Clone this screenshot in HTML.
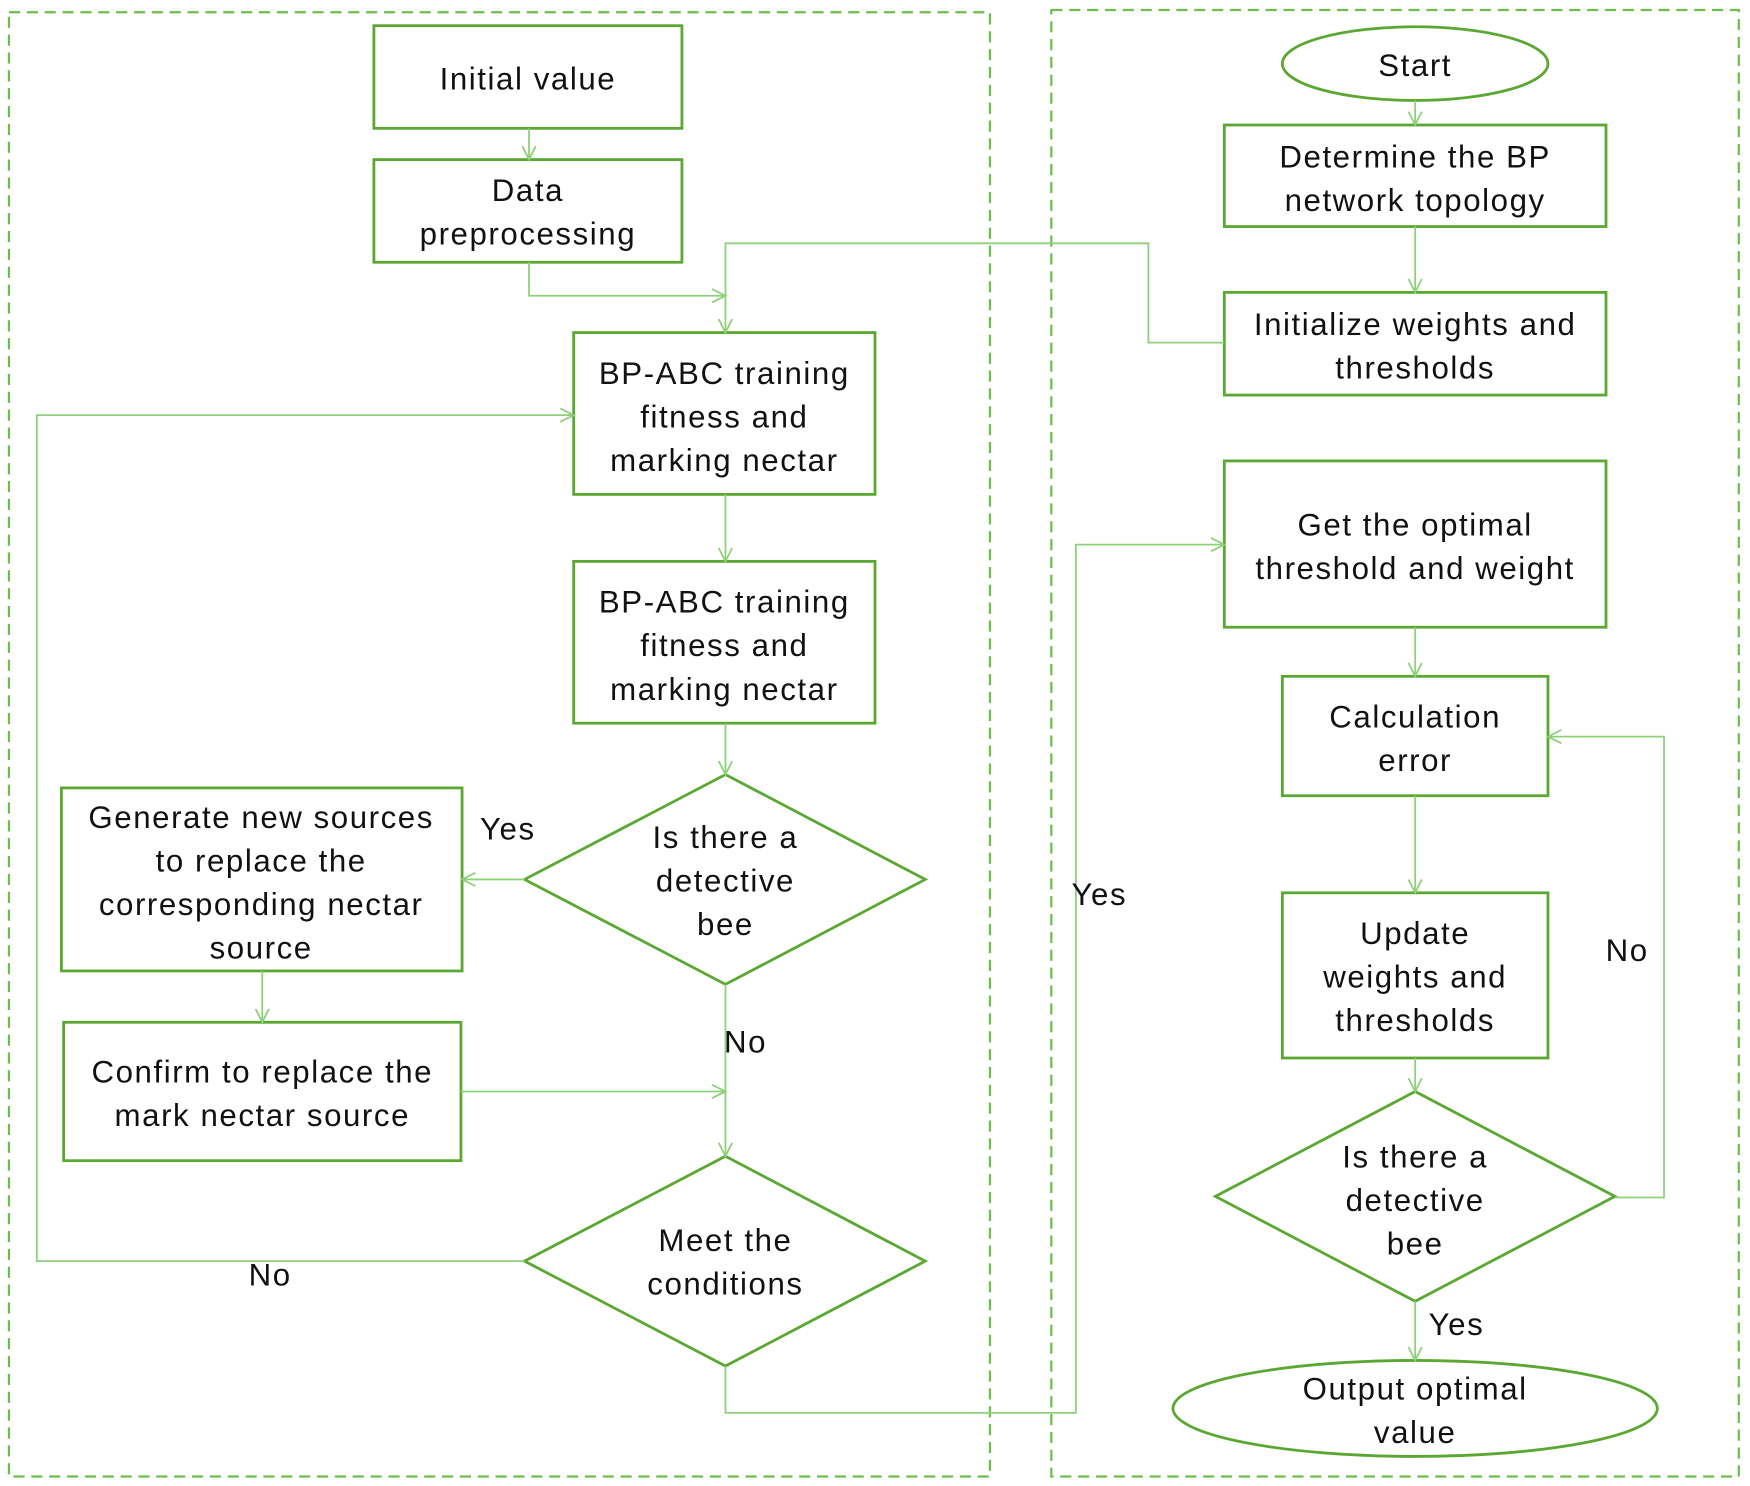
<!DOCTYPE html>
<html><head><meta charset="utf-8"><style>html,body{margin:0;padding:0;background:#fff}svg{display:block}</style></head>
<body>
<svg width="1750" height="1486" viewBox="0 0 1568 1331.5" xmlns="http://www.w3.org/2000/svg">
<defs><marker id="a" markerWidth="16" markerHeight="16" refX="13" refY="7" orient="auto" markerUnits="userSpaceOnUse"><path d="M1,1 L13,7 L1,13" fill="none" stroke="#8fd07a" stroke-width="1.6"/></marker></defs>
<g fill="none" stroke="#6cbf4a" stroke-width="2" stroke-dasharray="10,6">
<rect x="8" y="11" width="879" height="1312"/>
<rect x="942" y="9" width="616" height="1314"/>
</g>
<g fill="#fff" stroke="#5aa832" stroke-width="2.5">
<rect x="335" y="23" width="276" height="92"/>
<rect x="335" y="143" width="276" height="92"/>
<rect x="514" y="298" width="270" height="145"/>
<rect x="514" y="503" width="270" height="145"/>
<polygon points="470,788 650,694 829,788 650,882"/>
<rect x="55" y="706" width="359" height="164"/>
<rect x="57" y="916" width="356" height="124"/>
<polygon points="470,1130 650,1036 829,1130 650,1224"/>
<ellipse cx="1268" cy="57" rx="119" ry="33"/>
<rect x="1097" y="112" width="342" height="91"/>
<rect x="1097" y="262" width="342" height="92"/>
<rect x="1097" y="413" width="342" height="149"/>
<rect x="1149" y="606" width="238" height="107"/>
<rect x="1149" y="800" width="238" height="148"/>
<polygon points="1089,1072 1268,978 1447,1072 1268,1166"/>
<ellipse cx="1268" cy="1262" rx="217" ry="43"/>
</g>
<g fill="none" stroke="#8fd07a" stroke-width="1.6" marker-end="url(#a)">
<path d="M474,115 V143"/>
<path d="M474,235 V265 H650"/>
<path d="M1097,307 H1029 V218 H650 V298"/>
<path d="M650,443 V503"/>
<path d="M650,648 V694"/>
<path d="M470,788 H414"/>
<path d="M235,870 V916"/>
<path d="M650,882 V1036"/>
<path d="M413,978 H650"/>
<path d="M470,1130 H33 V372 H514"/>
<path d="M650,1224 V1266 H964 V488 H1097"/>
<path d="M1268,90 V112"/>
<path d="M1268,203 V262"/>
<path d="M1268,562 V606"/>
<path d="M1268,713 V800"/>
<path d="M1268,948 V978"/>
<path d="M1447,1073 H1491 V660 H1387"/>
<path d="M1268,1166 V1219"/>
</g>
<g font-family="Liberation Sans, sans-serif" font-size="28" fill="#111" text-anchor="middle" letter-spacing="1.4">
<text x="473" y="80">Initial value</text>
<text x="473" y="180">Data</text><text x="473" y="219">preprocessing</text>
<text x="649" y="344">BP-ABC training</text><text x="649" y="383">fitness and</text><text x="649" y="422">marking nectar</text>
<text x="649" y="549">BP-ABC training</text><text x="649" y="588">fitness and</text><text x="649" y="627">marking nectar</text>
<text x="650" y="760">Is there a</text><text x="650" y="799">detective</text><text x="650" y="838">bee</text>
<text x="234" y="742">Generate new sources</text><text x="234" y="781">to replace the</text><text x="234" y="820">corresponding nectar</text><text x="234" y="859">source</text>
<text x="235" y="970">Confirm to replace the</text><text x="235" y="1009">mark nectar source</text>
<text x="650" y="1121">Meet the</text><text x="650" y="1160">conditions</text>
<text x="1268" y="68">Start</text>
<text x="1268" y="150">Determine the BP</text><text x="1268" y="189">network topology</text>
<text x="1268" y="300">Initialize weights and</text><text x="1268" y="339">thresholds</text>
<text x="1268" y="480">Get the optimal</text><text x="1268" y="519">threshold and weight</text>
<text x="1268" y="652">Calculation</text><text x="1268" y="691">error</text>
<text x="1268" y="846">Update</text><text x="1268" y="885">weights and</text><text x="1268" y="924">thresholds</text>
<text x="1268" y="1046">Is there a</text><text x="1268" y="1085">detective</text><text x="1268" y="1124">bee</text>
<text x="1268" y="1254">Output optimal</text><text x="1268" y="1293">value</text>
<text x="455" y="752">Yes</text>
<text x="668" y="943">No</text>
<text x="242" y="1152">No</text>
<text x="985" y="811">Yes</text>
<text x="1458" y="861">No</text>
<text x="1305" y="1196">Yes</text>
</g>
</svg>
</body></html>
